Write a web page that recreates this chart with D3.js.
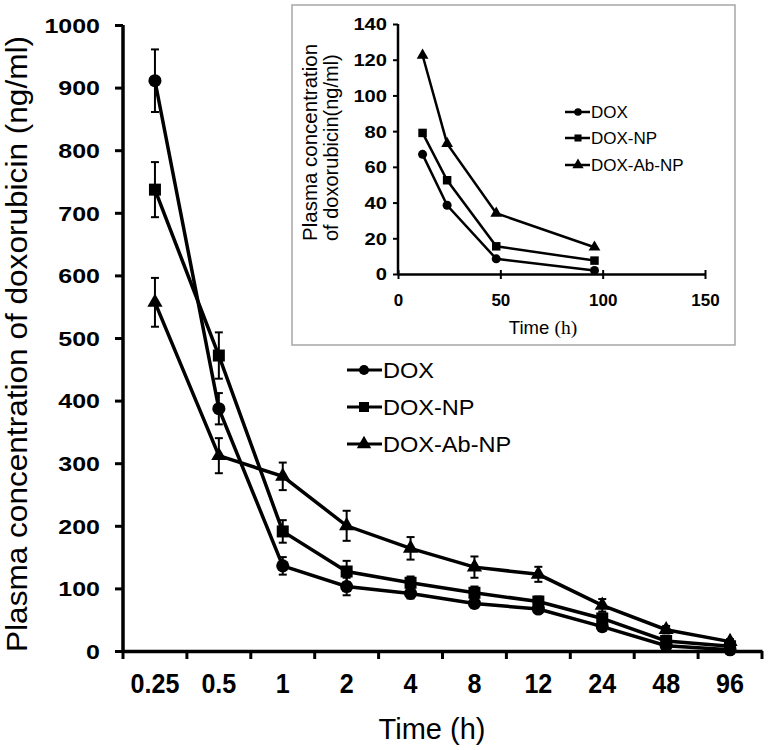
<!DOCTYPE html>
<html>
<head>
<meta charset="utf-8">
<script src="https://cdn.jsdelivr.net/npm/d3@7/dist/d3.min.js"></script>
<style>
	body { margin: 0; background: #fff; }
	text { font-family: "Liberation Sans", Arial, sans-serif; fill: #000; }
</style>
</head>
<body>
<script>

// main chart data
var times = ["0.25", "0.5", "1", "2", "4", "8", "12", "24", "48", "96"]
var dox = [911, 387, 136, 103, 92, 76, 67, 39, 8.5, 2]
var doxNP = [737, 472, 191, 127, 109, 93, 79, 52, 16, 7.5]
var doxAbNP = [557, 312, 279, 200, 164, 134, 122.5, 73, 34, 15]
var doxErr = [50, 25, 14, 14, 8, 7, 6, 7, 4, 2]
var doxNPErr = [44, 37, 18, 17, 10, 10, 8, 8, 5, 3]
var doxAbNPErr = [39, 28, 22, 24, 18, 17, 12, 10, 6, 4]
var yTicks = [0, 100, 200, 300, 400, 500, 600, 700, 800, 900, 1000]

// inset data
var insetHours = [12, 24, 48, 96]
var insetDox = [67, 38.5, 8.5, 2]
var insetNP = [79, 52.5, 15.5, 7.5]
var insetAbNP = [122.5, 73, 34, 15]
var insetYTicks = [0, 20, 40, 60, 80, 100, 120, 140]
var insetXTicks = [0, 50, 100, 150]

var seriesNames = ["DOX", "DOX-NP", "DOX-Ab-NP"]
var shapes = [d3.symbolCircle, d3.symbolSquare, d3.symbolTriangle]


var svg = d3.select("body").append("svg")
	.attr("width", 784)
	.attr("height", 750)
	.style("background", "#fff")

// stretch text sideways to look like the source scan
function stretch(sel, f)
{
	sel.each(function()
	{
		var w = this.getComputedTextLength()
		d3.select(this)
		.attr("textLength", w * f)
		.attr("lengthAdjust", "spacingAndGlyphs")
	})
}


/* ---------- main chart ---------- */

var x = d3.scaleBand().domain(times).range([123, 762])
var y = d3.scaleLinear().domain([0, 1000]).range([651, 25])

var yAxis = svg.append("g")
	.attr("transform", "translate(123,0)")
	.call(d3.axisLeft(y).tickValues(yTicks).tickFormat(d3.format("d")).tickSize(8).tickPadding(15))

yAxis.select(".domain").attr("stroke", "#000").attr("stroke-width", 3.5).attr("d", "M0,25V651")
yAxis.selectAll(".tick line").attr("stroke", "#000").attr("stroke-width", 3)
yAxis.selectAll(".tick text")
	.style("font-family", "Liberation Sans, Arial")
	.attr("font-size", 20)
	.attr("font-weight", "bold")
	.attr("dy", "0.36em")
	.call(stretch, 1.25)

var xAxis = svg.append("g")
	.attr("transform", "translate(0,651)")
	.call(d3.axisBottom(x).tickSize(0).tickPadding(42))

xAxis.select(".domain").attr("stroke", "#000").attr("stroke-width", 3.5)
xAxis.selectAll(".tick text")
	.style("font-family", "Liberation Sans, Arial")
	.attr("font-size", 27)
	.attr("font-weight", "bold")
	.attr("dy", 0)
	.call(stretch, 0.93)

// ticks sit on the band edges
var edges = times.map(function(t) { return x(t) }).concat([x.range()[1]])
xAxis.selectAll(".edge")
	.data(edges)
	.enter().append("line")
	.attr("x1", function(d) { return d })
	.attr("x2", function(d) { return d })
	.attr("y1", 0)
	.attr("y2", 8)
	.attr("stroke", "#000")
	.attr("stroke-width", 3)

svg.append("text")
	.attr("transform", "translate(27,344) rotate(-90)")
	.attr("text-anchor", "middle")
	.attr("font-size", 29)
	.text("Plasma concentration of doxorubicin (ng/ml)")
	.call(function(s) { s.attr("textLength", 616).attr("lengthAdjust", "spacingAndGlyphs") })

svg.append("text")
	.attr("x", 432)
	.attr("y", 739)
	.attr("text-anchor", "middle")
	.attr("font-size", 29)
	.text("Time (h)")

var mainSeries = [
	{ vals: dox, err: doxErr },
	{ vals: doxNP, err: doxNPErr },
	{ vals: doxAbNP, err: doxAbNPErr }
]

var line = d3.line()
	.x(function(d, i) { return x(times[i]) + x.bandwidth() / 2 })
	.y(function(d) { return y(d) })

mainSeries.forEach(function(s, k)
{
	var g = svg.append("g").attr("class", "series")

	g.append("path")
	.attr("d", line(s.vals))
	.attr("fill", "none")
	.attr("stroke", "#000")
	.attr("stroke-width", 3.5)

	var bars = g.selectAll(".err")
	.data(s.vals)
	.enter().append("g")
	.attr("transform", function(d, i) { return "translate(" + (x(times[i]) + x.bandwidth() / 2) + ",0)" })

	bars.append("line")
	.attr("y1", function(d, i) { return y(d + s.err[i]) })
	.attr("y2", function(d, i) { return y(d - s.err[i]) })
	.attr("stroke", "#000")
	.attr("stroke-width", 2)

	bars.append("line")
	.attr("x1", -4).attr("x2", 4)
	.attr("y1", function(d, i) { return y(d + s.err[i]) })
	.attr("y2", function(d, i) { return y(d + s.err[i]) })
	.attr("stroke", "#000")
	.attr("stroke-width", 2)

	bars.append("line")
	.attr("x1", -4).attr("x2", 4)
	.attr("y1", function(d, i) { return y(d - s.err[i]) })
	.attr("y2", function(d, i) { return y(d - s.err[i]) })
	.attr("stroke", "#000")
	.attr("stroke-width", 2)

	var size = [135, 144, 100][k]
	g.selectAll(".mark")
	.data(s.vals)
	.enter().append("path")
	.attr("d", d3.symbol().type(shapes[k]).size(size))
	.attr("transform", function(d, i) { return "translate(" + (x(times[i]) + x.bandwidth() / 2) + "," + y(d) + ")" })
	.attr("fill", "#000")
})

// main legend
var legend = svg.append("g").attr("transform", "translate(347,0)")
var legRows = [370, 407, 444]

seriesNames.forEach(function(name, k)
{
	var row = legend.append("g").attr("transform", "translate(0," + legRows[k] + ")")

	row.append("line")
	.attr("x1", 0).attr("x2", 35)
	.attr("stroke", "#000")
	.attr("stroke-width", 3)

	row.append("path")
	.attr("d", d3.symbol().type(shapes[k]).size([80, 100, 90][k]))
	.attr("transform", "translate(17,0)")
	.attr("fill", "#000")

	row.append("text")
	.attr("x", 36)
	.attr("y", 8)
	.attr("font-size", 22)
	.text(name)
	.call(stretch, 1.07)
})


/* ---------- inset chart ---------- */

svg.append("rect")
	.attr("x", 292)
	.attr("y", 5)
	.attr("width", 443)
	.attr("height", 340)
	.attr("fill", "#fff")
	.attr("stroke", "#a6a6a6")
	.attr("stroke-width", 1.5)

var ix = d3.scaleLinear().domain([0, 150]).range([398, 705])
var iy = d3.scaleLinear().domain([0, 140]).range([274, 24])

var iyAxis = svg.append("g")
	.attr("transform", "translate(398,0)")
	.call(d3.axisLeft(iy).tickValues(insetYTicks).tickSize(5).tickPadding(6))

iyAxis.select(".domain").attr("stroke", "#000").attr("stroke-width", 2.5).attr("d", "M0,24V274")
iyAxis.selectAll(".tick line").attr("stroke", "#000").attr("stroke-width", 2)
iyAxis.selectAll(".tick text")
	.style("font-family", "Liberation Sans, Arial")
	.attr("font-size", 16.5)
	.attr("font-weight", "bold")
	.attr("dy", "0.36em")
	.call(stretch, 1.22)

var ixAxis = svg.append("g")
	.attr("transform", "translate(0,274)")
	.call(d3.axisBottom(ix).tickValues(insetXTicks).tickSizeInner(5).tickSizeOuter(0).tickPadding(15))

ixAxis.select(".domain").attr("stroke", "#000").attr("stroke-width", 2.5)
ixAxis.selectAll(".tick line").attr("stroke", "#000").attr("stroke-width", 2).attr("y1", -4)
ixAxis.selectAll(".tick text")
	.style("font-family", "Liberation Sans, Arial")
	.attr("font-size", 17)
	.attr("font-weight", "bold")
	.attr("dy", "0.71em")

var ititle = svg.append("g").attr("transform", "translate(0,241) rotate(-90)")

ititle.append("text")
	.attr("x", 0).attr("y", 317)
	.attr("font-size", 20.5)
	.text("Plasma concentration")

ititle.append("text")
	.attr("x", 0).attr("y", 338)
	.attr("font-size", 20)
	.text("of doxorubicin(ng/ml)")

var ixTitle = svg.append("text")
	.attr("x", 543)
	.attr("y", 334)
	.attr("text-anchor", "middle")
	.attr("font-size", 18.5)

ixTitle.append("tspan").text("Time ")
ixTitle.append("tspan").style("font-family", "Liberation Serif, Times New Roman, serif").attr("font-size", 19.5).text("(h)")

var insetSeries = [insetDox, insetNP, insetAbNP]

var iline = d3.line()
	.x(function(d, i) { return ix(insetHours[i]) })
	.y(function(d) { return iy(d) })

insetSeries.forEach(function(vals, k)
{
	svg.append("path")
	.attr("d", iline(vals))
	.attr("fill", "none")
	.attr("stroke", "#000")
	.attr("stroke-width", 2.5)

	svg.selectAll(".imark" + k)
	.data(vals)
	.enter().append("path")
	.attr("d", d3.symbol().type(shapes[k]).size([64, 72, 60][k]))
	.attr("transform", function(d, i) { return "translate(" + ix(insetHours[i]) + "," + iy(d) + ")" })
	.attr("fill", "#000")
})

// inset legend
var ilegRows = [112, 138, 165]

seriesNames.forEach(function(name, k)
{
	var row = svg.append("g").attr("transform", "translate(565," + ilegRows[k] + ")")

	row.append("line")
	.attr("x1", 0).attr("x2", 25)
	.attr("stroke", "#000")
	.attr("stroke-width", 2.5)

	row.append("path")
	.attr("d", d3.symbol().type(shapes[k]).size([45, 50, 55][k]))
	.attr("transform", "translate(13,0)")
	.attr("fill", "#000")

	row.append("text")
	.attr("x", 26)
	.attr("y", 6)
	.attr("font-size", 17)
	.text(name)
})

</script>
</body>
</html>
